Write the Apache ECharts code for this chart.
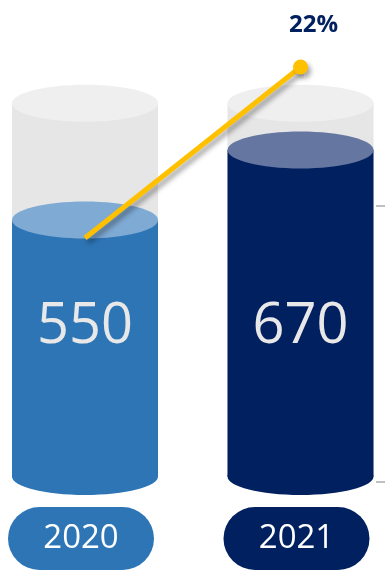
<!DOCTYPE html>
<html><head><meta charset="utf-8">
<script src="https://cdn.jsdelivr.net/npm/echarts@6/dist/echarts.min.js"></script>
<style>html,body{margin:0;padding:0;background:#fff}#c{width:385px;height:577px}</style>
</head><body><div id="c"></div>
<script>
// ---- data ----
const categories = ['2020', '2021'];
const values = [550, 670];
const growthPct = [0, 22];

// ---- styles ----
const bodyColors = ['#2E75B6', '#002060'];
const topColors = ['#7FAAD4', '#6577A0'];
const FONT = '"Open Sans", "Noto Sans", sans-serif';

const chart = echarts.init(document.getElementById('c'), null, { renderer: 'canvas' });

function renderCylinder(params, api) {
  const i = api.value(0);
  const v = api.value(1);
  const cs = params.coordSys;
  const pt = api.coord([i, v]);
  const cx = pt[0], yTop = pt[1];
  const yBase = cs.y + cs.height;
  const yGray = cs.y;
  const rx = 73, ry = 18.5;
  const pillW = 146, pillH = 63;
  const pillCx = cx - 4;
  return {
    type: 'group',
    children: [
      { type: 'rect', shape: { x: cx - rx, y: yGray, width: rx * 2, height: yBase - yGray }, style: { fill: '#E6E6E6' } },
      { type: 'ellipse', shape: { cx: cx, cy: yGray, rx: rx, ry: ry }, style: { fill: '#EFEFEF' } },
      { type: 'rect', shape: { x: cx - rx, y: yTop, width: rx * 2, height: yBase - yTop }, style: { fill: bodyColors[i] } },
      { type: 'ellipse', shape: { cx: cx, cy: yBase, rx: rx, ry: ry }, style: { fill: bodyColors[i] } },
      { type: 'ellipse', shape: { cx: cx, cy: yTop, rx: rx, ry: ry }, style: { fill: topColors[i] } },
      { type: 'text', x: cx, y: yBase - 149, style: { text: String(v), fill: '#E8E8E8', font: '56px ' + FONT, align: 'center', verticalAlign: 'middle' } },
      { type: 'rect', shape: { x: pillCx - pillW / 2, y: yBase + 30.5, width: pillW, height: pillH, r: pillH / 2 }, style: { fill: bodyColors[i] } },
      { type: 'text', x: pillCx, y: yBase + 30.5 + pillH / 2, style: { text: categories[i], fill: '#FFFFFF', font: '33px ' + FONT, align: 'center', verticalAlign: 'middle' } }
    ]
  };
}

const option = {
  animation: false,
  grid: [
    { left: 85, right: 84.5, top: 103.3, bottom: 100.5 },
    { left: 85, right: 84.5, top: 67, bottom: 339 },
    { left: 376, right: 0, top: 206, bottom: 95 }
  ],
  xAxis: [
    { gridIndex: 0, type: 'category', data: categories, boundaryGap: false, show: false },
    { gridIndex: 1, type: 'category', data: categories, boundaryGap: false, show: false },
    { gridIndex: 2, type: 'value', show: false }
  ],
  yAxis: [
    { gridIndex: 0, type: 'value', min: 110, max: 750, show: false },
    { gridIndex: 1, type: 'value', min: 0, max: 22, show: false },
    { gridIndex: 2, type: 'value', min: 0, max: 1, interval: 1, position: 'left',
      axisLine: { show: false }, axisLabel: { show: false }, splitLine: { show: false },
      axisTick: { show: true, inside: true, length: 9, lineStyle: { color: '#BFBFBF', width: 2 } } }
  ],
  series: [
    {
      type: 'custom', xAxisIndex: 0, yAxisIndex: 0,
      renderItem: renderCylinder,
      data: values.map((v, i) => [i, v]),
      clip: false, z: 2
    },
    {
      type: 'line', xAxisIndex: 1, yAxisIndex: 1, z: 5, clip: false,
      data: growthPct.map((g, i) => ({ value: g, symbol: i === growthPct.length - 1 ? 'circle' : 'none' })),
      symbolSize: 15,
      lineStyle: { color: '#FFC000', width: 5, cap: 'butt', shadowColor: 'rgba(0,0,0,0.35)', shadowBlur: 5, shadowOffsetX: 3, shadowOffsetY: 4 },
      itemStyle: { color: '#FFC000', shadowColor: 'rgba(0,0,0,0.35)', shadowBlur: 5, shadowOffsetX: 3, shadowOffsetY: 4 },
      label: {
        show: true, position: 'top', distance: 22, offset: [13, 0],
        formatter: p => p.dataIndex === growthPct.length - 1 ? p.value + '%' : '',
        color: '#002060', fontFamily: FONT, fontWeight: 'bold', fontSize: 24, lineHeight: 24
      }
    }
  ]
};
chart.setOption(option);
</script>
</body></html>
